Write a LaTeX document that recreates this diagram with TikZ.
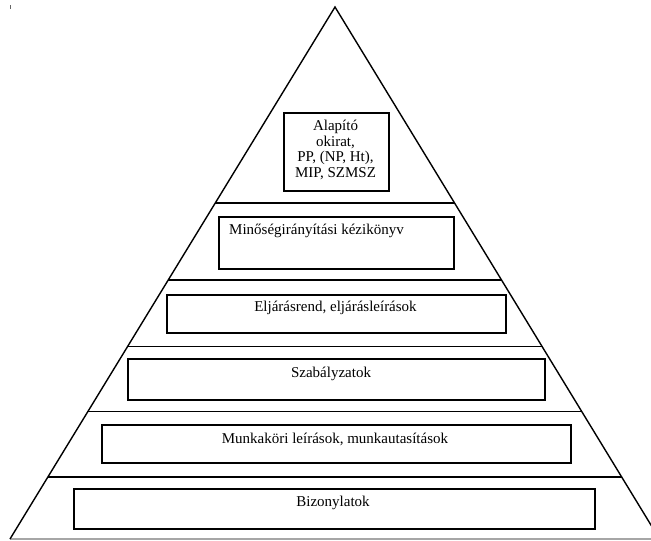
\documentclass[tikz,border=0pt]{standalone}
\usepackage{fontspec}
\setmainfont{Liberation Serif}
\usetikzlibrary{calc}
\begin{document}
\begin{tikzpicture}[x=1pt,y=-1pt,
  edge/.style={line width=1.4pt, line join=miter},
  sep/.style={line width=1.5pt},
  base/.style={line width=1.2pt, draw=black!35},
  box/.style={draw, line width=1.6pt, inner sep=0pt, anchor=north west},
  lbl/.style={font=\fontsize{15}{15.5}\selectfont, inner sep=0pt, align=center}]
\useasboundingbox (0,0) rectangle (651,541);
% tiny mark
\coordinate (m1) at (10,5);
\coordinate (m2) at (10,9);
\draw[line width=0.6pt, black!60] (m1) -- (m2);
% triangle
\coordinate (apex) at (335,7);
\coordinate (bl) at (10,539);
\coordinate (br) at (659.5,539);
\draw[base] (bl) -- (br);
\draw[edge] (bl) -- (apex) -- (br);
% separators
\foreach \t [count=\i] in {0.3684,0.5132,0.6382,0.7603,0.8835}{
  \coordinate (sl\i) at ($(apex)!\t!(bl)$);
  \coordinate (sr\i) at ($(apex)!\t!(br)$);
  \draw[sep] (sl\i) -- (sr\i);
}
% boxes
\node[box, minimum width=105, minimum height=78] (b1) at (283,112) {};
\node[box, minimum width=235, minimum height=52] (b2) at (218,216) {};
\node[box, minimum width=339, minimum height=38] (b3) at (166,294) {};
\node[box, minimum width=417, minimum height=41] (b4) at (127,358) {};
\node[box, minimum width=469, minimum height=38] (b5) at (101,424) {};
\node[box, minimum width=521, minimum height=40] (b6) at (73,488) {};
% labels
\node[lbl] (t1) at (335.5,150) {Alapító\\okirat,\\PP, (NP, Ht),\\MIP, SZMSZ};
\node[lbl, anchor=west] (t2) at (229,231) {Minőségirányítási kézikönyv};
\node[lbl] (t3) at (335.5,308) {Eljárásrend, eljárásleírások};
\node[lbl] (t4) at (331,374) {Szabályzatok};
\node[lbl] (t5) at (335,439) {Munkaköri leírások, munkautasítások};
\node[lbl] (t6) at (333,503) {Bizonylatok};
\end{tikzpicture}
\end{document}
